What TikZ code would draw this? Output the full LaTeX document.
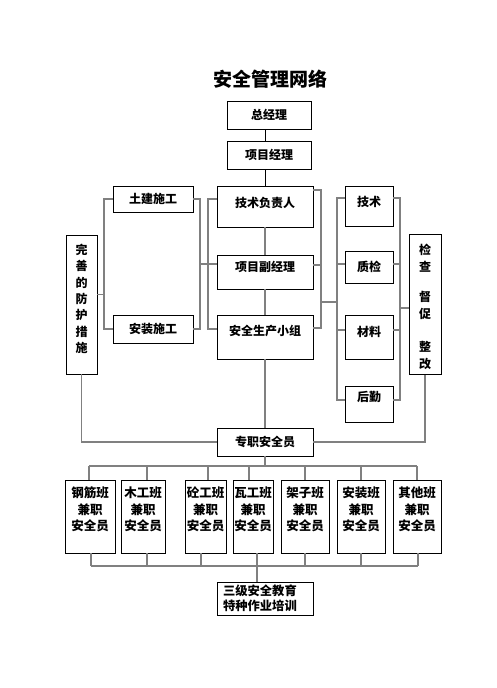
\documentclass[tikz,border=0pt]{standalone}
\usepackage{fontspec}
\setmainfont{Noto Sans CJK SC}
\usetikzlibrary{calc}
\begin{document}
\begin{tikzpicture}[x=1pt,y=-1pt,
  box/.style={draw=black,line width=0.9pt,inner sep=1pt,font=\fontsize{12}{14}\selectfont\bfseries,align=center},
  lift/.style={text height=10pt,text depth=#1},
  bbox/.style={box,minimum height=73,text depth=16pt},
  conn/.style={draw=black!50,line width=1.6pt},
  link/.style={draw=black,line width=0.8pt}]
\useasboundingbox (0,0) rectangle (496,688);
\node[font=\fontsize{19}{22}\selectfont\bfseries] (title) at (270,79) {安全管理网络};
\node[box,minimum width=84,minimum height=28] (zjl) at (269,115) {总经理};
\node[box,minimum width=84,minimum height=28] (xmjl) at (269,155) {项目经理};
\node[box,minimum width=80,minimum height=26] (tj) at (153,199) {土建施工};
\node[box,minimum width=80,minimum height=28] (azsg) at (153,329) {安装施工};
\node[box,lift=7.8pt,minimum width=96,minimum height=41] (jsfz) at (265,206.5) {技术负责人};
\node[box,lift=10.8pt,minimum width=96,minimum height=34] (fjl) at (265,272) {项目副经理};
\node[box,lift=12.8pt,minimum width=96,minimum height=44] (xz) at (265,337) {安全生产小组};
\node[box,minimum width=96,minimum height=28] (zz) at (265,442) {专职安全员};
\node[box,lift=8.8pt,minimum width=48,minimum height=40] (js) at (369,206) {技术};
\node[box,minimum width=48,minimum height=32] (zj) at (369,267) {质检};
\node[box,lift=10.8pt,minimum width=48,minimum height=44] (cl) at (369,337) {材料};
\node[box,lift=14.8pt,minimum width=48,minimum height=36] (hq) at (369,404) {后勤};
\node[box,minimum width=31,minimum height=139,text depth=13.5pt] (ws) at (81.5,304.5)
  {\fontsize{12}{16.3}\selectfont\begin{tabular}[b]{@{}c@{}}完\\善\\的\\防\\护\\措\\施\end{tabular}};
\node[box,minimum width=32,minimum height=139,text height=133pt] (jc) at (425,304.5)
  {\fontsize{12}{17}\selectfont\begin{tabular}[b]{@{}c@{}}检\\查\\[13pt]督\\促\\[16pt]整\\改\end{tabular}};
\tikzset{bfont/.style={font=\fontsize{12.5}{16.5}\selectfont\bfseries}}
\node[bbox,bfont,minimum width=50] (b1) at (90,516.5) {\begin{tabular}[b]{@{}c@{}}钢筋班\\兼职\\安全员\end{tabular}};
\node[bbox,bfont,minimum width=44] (b2) at (143,516.5) {\begin{tabular}[b]{@{}c@{}}木工班\\兼职\\安全员\end{tabular}};
\node[bbox,bfont,minimum width=41] (b3) at (205.5,516.5) {\begin{tabular}[b]{@{}c@{}}砼工班\\兼职\\安全员\end{tabular}};
\node[bbox,bfont,minimum width=40] (b4) at (253,516.5) {\begin{tabular}[b]{@{}c@{}}瓦工班\\兼职\\安全员\end{tabular}};
\node[bbox,bfont,minimum width=48] (b5) at (305,516.5) {\begin{tabular}[b]{@{}c@{}}架子班\\兼职\\安全员\end{tabular}};
\node[bbox,bfont,minimum width=48] (b6) at (361,516.5) {\begin{tabular}[b]{@{}c@{}}安装班\\兼职\\安全员\end{tabular}};
\node[bbox,bfont,minimum width=48] (b7) at (417,516.5) {\begin{tabular}[b]{@{}c@{}}其他班\\兼职\\安全员\end{tabular}};
\node[box,minimum width=96,minimum height=33,text width=84,inner xsep=6pt,align=left,font=\fontsize{12.3}{15}\selectfont\bfseries] (sj) at (265,598.5) {三级安全教育\\特种作业培训};
% named coordinates for buses
\coordinate (xL) at (104,0);
\coordinate (xA) at (200,0);
\coordinate (xB) at (208,0);
\coordinate (xC) at (321,0);
\coordinate (xD) at (337,0);
\coordinate (xE) at (400,0);
\coordinate (yJ) at (0,302);
\coordinate (yK) at (0,308);
\coordinate (busT) at (0,466);
\coordinate (busB) at (0,566);
% top links
\draw[link] (zjl.south -| jsfz.north) -- (xmjl.north -| jsfz.north);
\draw[link] (xmjl.south -| jsfz.north) -- (jsfz.north);
% left side
\draw[conn] (tj.west) -- (tj.west -| xL) -- (azsg.west -| xL) -- (azsg.west);
\draw[conn] ([yshift=10pt]ws.east) -- ([yshift=10pt]ws.east -| xL);
\draw[conn] (tj.east) -- (tj.east -| xA) -- (azsg.east -| xA) -- (azsg.east);
\draw[conn] (tj.east -| jsfz.west) -- (tj.east -| xB) -- (azsg.east -| xB) -- (azsg.east -| xz.west);
\draw[conn] ([yshift=8pt]fjl.west -| xA) -- ([yshift=8pt]fjl.west);
% centre column
\draw[conn] (jsfz.south) -- (fjl.north);
\draw[conn] (fjl.south) -- (xz.north);
\draw[conn] (xz.south) -- (zz.north);
% right of centre
\draw[conn] ([yshift=16.5pt]jsfz.east) -- ([yshift=16.5pt]jsfz.east -| xC) -- ([yshift=9pt]xz.east -| xC) -- ([yshift=9pt]xz.east);
\draw[conn] ([yshift=7pt]fjl.east) -- ([yshift=7pt]fjl.east -| xC);
\draw[conn] (xC |- yJ) -- (xD |- yJ);
\draw[conn] ([yshift=8pt]js.west) -- ([yshift=8pt]js.west -| xD) -- ([yshift=4pt]hq.west -| xD) -- ([yshift=4pt]hq.west);
\draw[conn] ([yshift=3pt]zj.west) -- ([yshift=3pt]zj.west -| xD);
\draw[conn] ([yshift=7pt]cl.west) -- ([yshift=7pt]cl.west -| xD);
\draw[conn] ([yshift=8pt]js.east) -- ([yshift=8pt]js.east -| xE) -- ([yshift=4pt]hq.east -| xE) -- ([yshift=4pt]hq.east);
\draw[conn] ([yshift=3pt]zj.east) -- ([yshift=3pt]zj.east -| xE);
\draw[conn] ([yshift=7pt]cl.east) -- ([yshift=7pt]cl.east -| xE);
\draw[conn] (xE |- yK) -- (jc.west |- yK);
% to full-time safety officer
\draw[conn] (ws.south) |- (zz.west);
\draw[conn] (jc.south) |- (zz.east);
% bottom bus
\draw[conn] (zz.south) -- (zz.south |- busT);
\draw[conn] ([xshift=-1pt]b1.north |- busT) -- (b7.north |- busT);
\draw[conn] ([xshift=-1pt]b1.north) -- ([xshift=-1pt]b1.north |- busT);
\draw[conn] ([xshift=4pt]b2.north) -- ([xshift=4pt]b2.north |- busT);
\draw[conn] ([xshift=2.5pt]b3.north) -- ([xshift=2.5pt]b3.north |- busT);
\draw[conn] ([xshift=-4pt]b4.north) -- ([xshift=-4pt]b4.north |- busT);
\draw[conn] (b5.north) -- (b5.north |- busT);
\draw[conn] (b6.north) -- (b6.north |- busT);
\draw[conn] (b7.north) -- (b7.north |- busT);
\draw[conn] ([xshift=1pt]b1.south |- busB) -- ([xshift=1pt]b7.south |- busB);
\draw[conn] ([xshift=1pt]b1.south) -- ([xshift=1pt]b1.south |- busB);
\draw[conn] ([xshift=4pt]b2.south) -- ([xshift=4pt]b2.south |- busB);
\draw[conn] ([xshift=-4.5pt]b3.south) -- ([xshift=-4.5pt]b3.south |- busB);
\draw[conn] ([xshift=4pt]b4.south) -- ([xshift=4pt]b4.south |- busB);
\draw[conn] (b5.south) -- (b5.south |- busB);
\draw[conn] (b6.south) -- (b6.south |- busB);
\draw[conn] ([xshift=1pt]b7.south) -- ([xshift=1pt]b7.south |- busB);
\draw[conn] ([xshift=4pt]b4.south |- busB) -- ([xshift=4pt]b4.south |- sj.north);
\end{tikzpicture}
\end{document}
